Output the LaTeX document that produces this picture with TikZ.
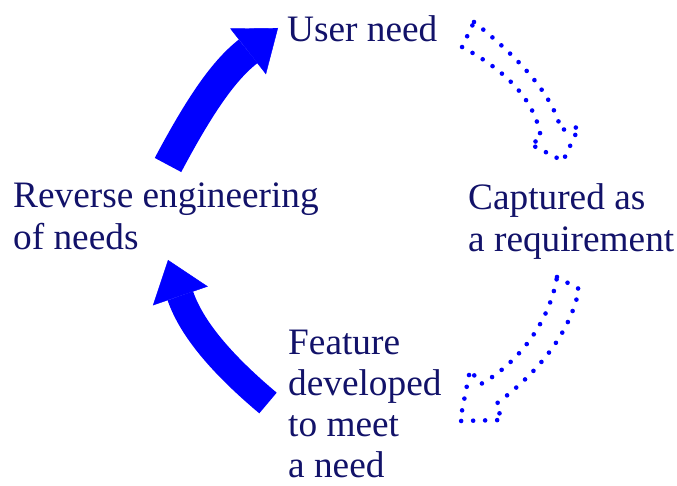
\documentclass[tikz,border=0pt]{standalone}
\usepackage{fontspec}
\setmainfont{Liberation Serif}
\usetikzlibrary{arrows.meta}
\definecolor{navytext}{RGB}{18,18,105}
\definecolor{cyclblue}{RGB}{0,0,255}

\begin{document}
\begin{tikzpicture}[
		x=1pt, y=1pt,
		every node/.style={font=\fontsize{37.3}{42.5}\selectfont, text=navytext, inner sep=0pt, anchor=base west, align=left},
		fat/.style={draw=cyclblue, line cap=butt, -{Triangle[length=38pt,width=58pt,line width=0.4pt]}},
		hollow/.style={draw=cyclblue, line width=4.6pt, line cap=round, line join=round, dash pattern=on 0pt off 12pt}
		]
		\useasboundingbox (0,0) rectangle (677,485);
		
		% --- Stages of the cycle (base = last line) ---
		\node (need) at (287,443) {User need};
		\node (captured) at (468,233) {Captured as\\a requirement};
		\node[font=\fontsize{37.3}{41}\selectfont] (feature) at (288,8) {Feature\\developed\\to meet\\a need};
		\node (reverse) at (13,235) {Reverse engineering\\of needs};
		
		% --- Dotted outline arrows (forward path) ---
		\draw[hollow] (474,463) .. controls (515,430) and (552,393) .. (561,355)
			-- (579,358) -- (563,324) -- (530,341) -- (541,346)
			.. controls (536,385) and (505,415) .. (462,438) -- cycle;
		\draw[hollow] (557,208) -- (579,196) .. controls (570,150) and (535,110) .. (496,81)
			-- (502,65) -- (460,64) -- (470,115) -- (481,101)
			.. controls (520,123) and (550,165) .. cycle;
		
		% --- Solid arrows (reverse path) ---
		\coordinate (backtail) at (268,82);
		\coordinate (backtip) at (168,225);
		\coordinate (uptail) at (168,320);
		\coordinate (uptip) at (278,457);
		\draw[fat, line width=27pt] (backtail) to[out=140, in=-71] (backtip);
		\draw[fat, line width=30pt] (uptail) to[out=62, in=218] (uptip);
	\end{tikzpicture}
\end{document}
